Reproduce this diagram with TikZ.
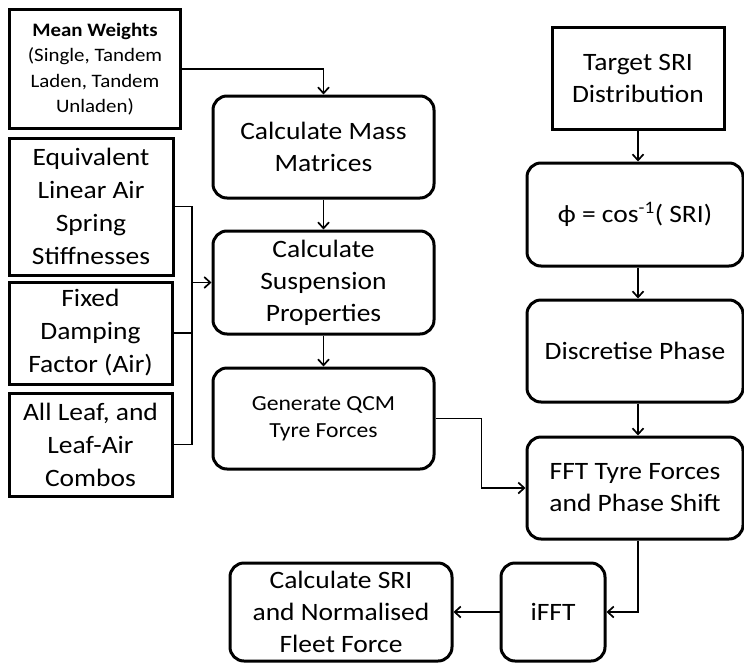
\documentclass[tikz,border=0pt]{standalone}
\usepackage{fontspec}
\setmainfont{Carlito}[FakeStretch=1.1]
\usetikzlibrary{arrows.meta}
\begin{document}
\begin{tikzpicture}[x=1pt,y=-1pt,
  box/.style={draw,line width=3pt,inner sep=0pt,align=center,font=\fontsize{25}{32}\selectfont},
  rbox/.style={box,rounded corners=14pt},
  conn/.style={line width=1.7pt},
  arr/.style={conn,-{Straight Barb[length=6pt,width=11pt]}}]
\useasboundingbox (0,0) rectangle (744,664);
\node[box,minimum width=171pt,minimum height=119pt,font=\fontsize{19}{25.5}\selectfont] (mw) at (95,69)
  {\textbf{Mean Weights}\\(Single, Tandem\\Laden, Tandem\\Unladen)};
\node[box,minimum width=164pt,minimum height=137pt,font=\fontsize{25}{33}\selectfont] (eq) at (91,206.5)
  {Equivalent\\Linear Air\\Spring\\Stiffnesses};
\node[box,minimum width=163pt,minimum height=102pt,font=\fontsize{25}{33}\selectfont] (fd) at (90.5,333)
  {Fixed\\Damping\\Factor (Air)};
\node[box,minimum width=163pt,minimum height=103pt,font=\fontsize{25}{33}\selectfont] (al) at (90.5,444.5)
  {All Leaf, and\\Leaf-Air\\Combos};
\node[rbox,minimum width=221pt,minimum height=102pt] (mass) at (323.5,147)
  {Calculate Mass\\Matrices};
\node[rbox,minimum width=221pt,minimum height=103pt] (susp) at (323.5,282.5)
  {Calculate\\Suspension\\Properties};
\node[rbox,minimum width=221pt,minimum height=101pt,font=\fontsize{21.5}{27}\selectfont] (qcm) at (323.5,418.5)
  {Generate QCM\\Tyre Forces};
\node[box,minimum width=172pt,minimum height=102pt] (tsri) at (638,78)
  {Target SRI\\Distribution};
\node[rbox,minimum width=216pt,minimum height=103pt] (phi) at (635,214.5)
  {ϕ = cos\textsuperscript{-1}( SRI)};
\node[rbox,minimum width=216pt,minimum height=102pt] (disc) at (635,351)
  {Discretise Phase};
\node[rbox,minimum width=216pt,minimum height=102pt] (fft) at (635,488)
  {FFT Tyre Forces\\and Phase Shift};
\node[rbox,minimum width=104pt,minimum height=98pt] (ifft) at (553,612)
  {iFFT};
\node[rbox,minimum width=222pt,minimum height=98pt] (csri) at (341,612)
  {Calculate SRI\\and Normalised\\Fleet Force};
% connectors
\draw[arr] (mw.east) -| (mass.north);
\draw[arr] (mass.south) -- (susp.north);
\draw[arr] (susp.south) -- (qcm.north);
\coordinate (bt) at (192,206.5);
\coordinate (bb) at (192,444.5);
\draw[conn] (eq.east) -- (bt) -- (bb) -- (al.east);
\draw[conn] (fd.east) -- (fd.east -| bt);
\draw[arr] (bt |- susp.west) -- (susp.west);
\draw[arr] (qcm.east) -- ++(46,0) |- (fft.west);
\draw[arr] (tsri.south) -- (tsri.south |- phi.north);
\draw[arr] (tsri.south |- phi.south) -- (tsri.south |- disc.north);
\draw[arr] (tsri.south |- disc.south) -- (tsri.south |- fft.north);
\draw[arr] (tsri.south |- fft.south) |- (ifft.east);
\draw[arr] (ifft.west) -- (csri.east);
\end{tikzpicture}
\end{document}
